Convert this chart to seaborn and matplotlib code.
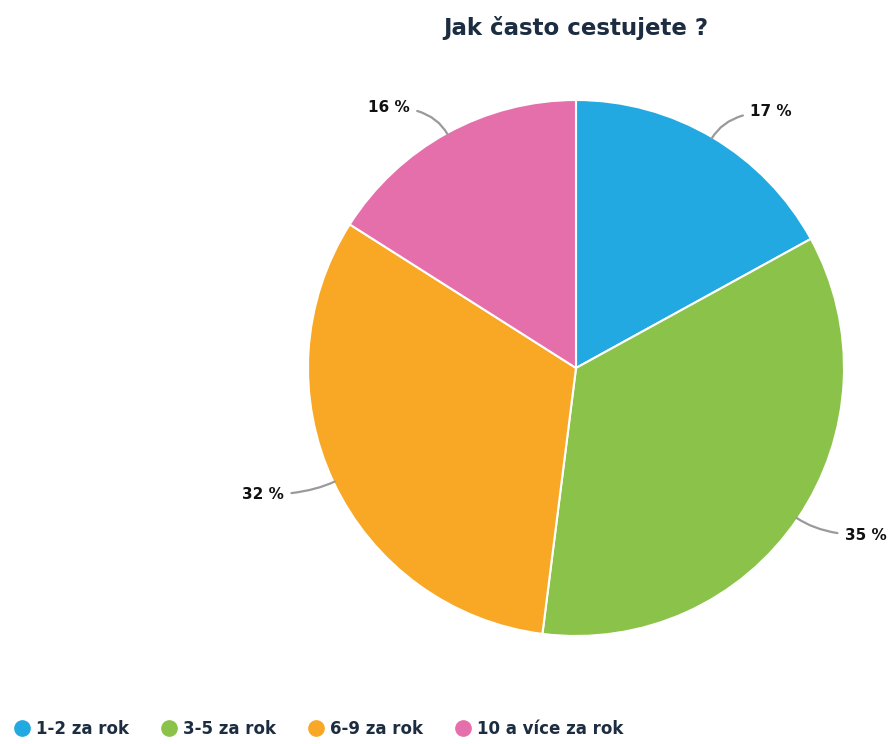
import numpy as np
import matplotlib
matplotlib.use("Agg")
import matplotlib.pyplot as plt
from matplotlib.lines import Line2D
import seaborn as sns

# Survey answers and their shares (percent)
categories = ["1-2 za rok", "3-5 za rok", "6-9 za rok", "10 a více za rok"]
shares = [17, 35, 32, 16]
colors = ["#22a9e1", "#8bc34a", "#f9a825", "#e56fab"]
title = "Jak často cestujete ?"

sns.set_theme(style="white")
plt.rcParams["font.family"] = ["DejaVu Sans"]

W, H = 893, 744
fig = plt.figure(figsize=(W / 100, H / 100), dpi=100)
cx, cy, r = 576, 368, 268
ax = fig.add_axes([(cx - r) / W, (H - cy - r) / H, 2 * r / W, 2 * r / H])

palette = sns.color_palette(colors)
wedges, _ = ax.pie(shares, colors=palette, startangle=90, counterclock=False,
                   radius=1.0, wedgeprops=dict(edgecolor="white", linewidth=1.5))
ax.set_xlim(-1, 1)
ax.set_ylim(-1, 1)
ax.set_aspect("equal")
ax.axis("off")

# Outside value labels with curved gray connectors
for w, v in zip(wedges, shares):
    mid = np.deg2rad((w.theta1 + w.theta2) / 2)
    ex, ey = np.cos(mid), np.sin(mid)
    side = 1 if ex >= 0 else -1
    lx = 1.11 * ex + side * 0.085
    ly = 1.11 * ey
    ax.annotate(f"{v} %", xy=(ex * 0.995, ey * 0.995), xytext=(lx, ly),
                ha="left" if side > 0 else "right", va="center",
                fontsize=11, fontweight="bold", color="#111111",
                annotation_clip=False,
                arrowprops=dict(arrowstyle="-", color="#9a9a9a", lw=1.6,
                                shrinkA=3, shrinkB=0,
                                connectionstyle=f"angle3,angleA=0,angleB={np.rad2deg(mid):.1f}"))

fig.text(cx / W, 1 - 28 / H, title, ha="center", va="center",
         fontsize=16.5, fontweight="bold", color="#1c2d42")

handles = [Line2D([0], [0], marker="o", linestyle="", markersize=11,
                  markerfacecolor=c, markeredgecolor=c) for c in palette]
fig.legend(handles, categories, loc="lower left", bbox_to_anchor=(0.0, -0.012),
           ncol=4, frameon=False, handletextpad=0.45, columnspacing=2.0,
           prop=dict(weight="bold", size=12), labelcolor="#1c2d42",
           handlelength=0.8)

fig.savefig("out.png", dpi=100, facecolor="white")
